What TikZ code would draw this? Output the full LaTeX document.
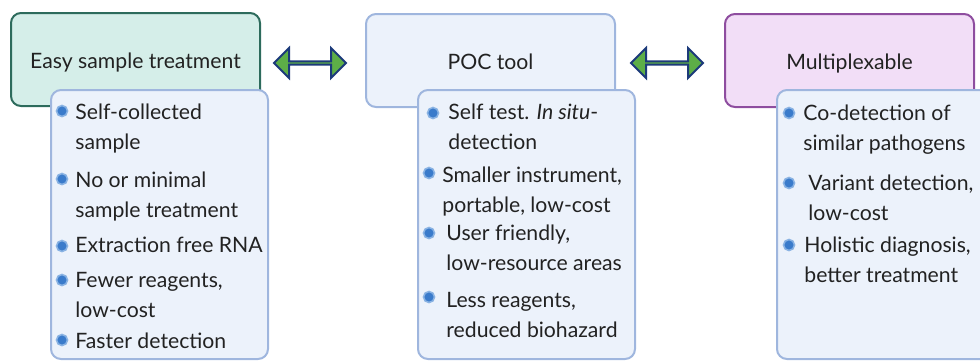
\documentclass[tikz,border=0pt]{standalone}
\usepackage{fontspec}
\setmainfont{Lato}
\usetikzlibrary{shapes.arrows}
\definecolor{ink}{HTML}{222222}
\definecolor{tealfill}{HTML}{D5EEE9}
\definecolor{tealline}{HTML}{2D6B5C}
\definecolor{bluefill}{HTML}{ECF2FB}
\definecolor{blueline}{HTML}{9FB6DE}
\definecolor{plumfill}{HTML}{F2DEF7}
\definecolor{plumline}{HTML}{8E4D9F}
\definecolor{leaf}{HTML}{5DAE47}
\definecolor{navy}{HTML}{1C3A7A}
\definecolor{dotblue}{HTML}{3A7BCB}
\definecolor{dotrim}{HTML}{8AB3E3}
\begin{document}
\begin{tikzpicture}[x=0.5pt,y=-0.5pt,
    font=\fontsize{10.6}{15}\selectfont, text=ink,
    head/.style={rounded corners=5pt, line width=1pt, anchor=north west,
      minimum width=124.5pt, minimum height=46.5pt, text height=8.5pt, text depth=0pt},
    list/.style={draw=blueline, fill=bluefill, rounded corners=5pt, line width=1pt,
      anchor=north west, minimum width=108.5pt, minimum height=134.5pt},
    item/.style={anchor=north west, align=left, inner sep=0pt},
    dot/.style={circle, fill=dotblue, draw=dotrim, line width=0.8pt, inner sep=0pt, minimum size=5.5pt},
    link/.style={double arrow, draw=navy, fill=leaf, line width=1pt, inner sep=0pt,
      minimum height=36pt, minimum width=15pt, double arrow head extend=4.25pt}]
    \useasboundingbox (0,0) rectangle (980,361);
    \clip (0,0) rectangle (980,361);
    % headers
    \node[head, draw=tealline, fill=tealfill] (easy) at (10,12) {Easy sample treatment};
    \node[head, draw=blueline, fill=bluefill] (poc) at (365,13) {POC tool};
    \node[head, draw=plumline, fill=plumfill] (multi) at (724,13) {Multiplexable};
    \node[link] (l1) at (310,63) {};
    \node[link] (l2) at (667,63) {};
    % lists
    \node[list] (easylist) at (50,89) {};
    \node[list] (poclist) at (417,89) {};
    \node[list] (multilist) at (776,89) {};
    \node[item] (e1) at (75,98) {\strut Self-collected\\sample};
    \node[item] (e2) at (75,166) {\strut No or minimal\\sample treatment};
    \node[item] (e3) at (75,231) {\strut Extraction free RNA};
    \node[item] (e4) at (75,266) {\strut Fewer reagents,\\low-cost};
    \node[item] (e5) at (75,327) {\strut Faster detection};
    \foreach \y [count=\i] in {111,179,246,280,340}
      \node[dot] (ed\i) at (62,\y) {};
    \node[item] (p1) at (448,98) {\strut Self test. \emph{In situ}-\\detection};
    \node[item] (p2) at (442,161) {\strut Smaller instrument,\\portable, low-cost};
    \node[item] (p3) at (446,219) {\strut User friendly,\\low-resource areas};
    \node[item] (p4) at (446,286) {\strut Less reagents,\\reduced biohazard};
    \node[dot] (pd1) at (433,113) {};
    \node[dot] (pd2) at (429,173) {};
    \node[dot] (pd3) at (429,233) {};
    \node[dot] (pd4) at (429,297) {};
    \node[item] (m1) at (803,99) {\strut Co-detection of\\similar pathogens};
    \node[item] (m2) at (808,169) {\strut Variant detection,\\low-cost};
    \node[item] (m3) at (804,231) {\strut Holistic diagnosis,\\better treatment};
    \foreach \y [count=\i] in {113,183,245}
      \node[dot] (md\i) at (789,\y) {};
\end{tikzpicture}
\end{document}
